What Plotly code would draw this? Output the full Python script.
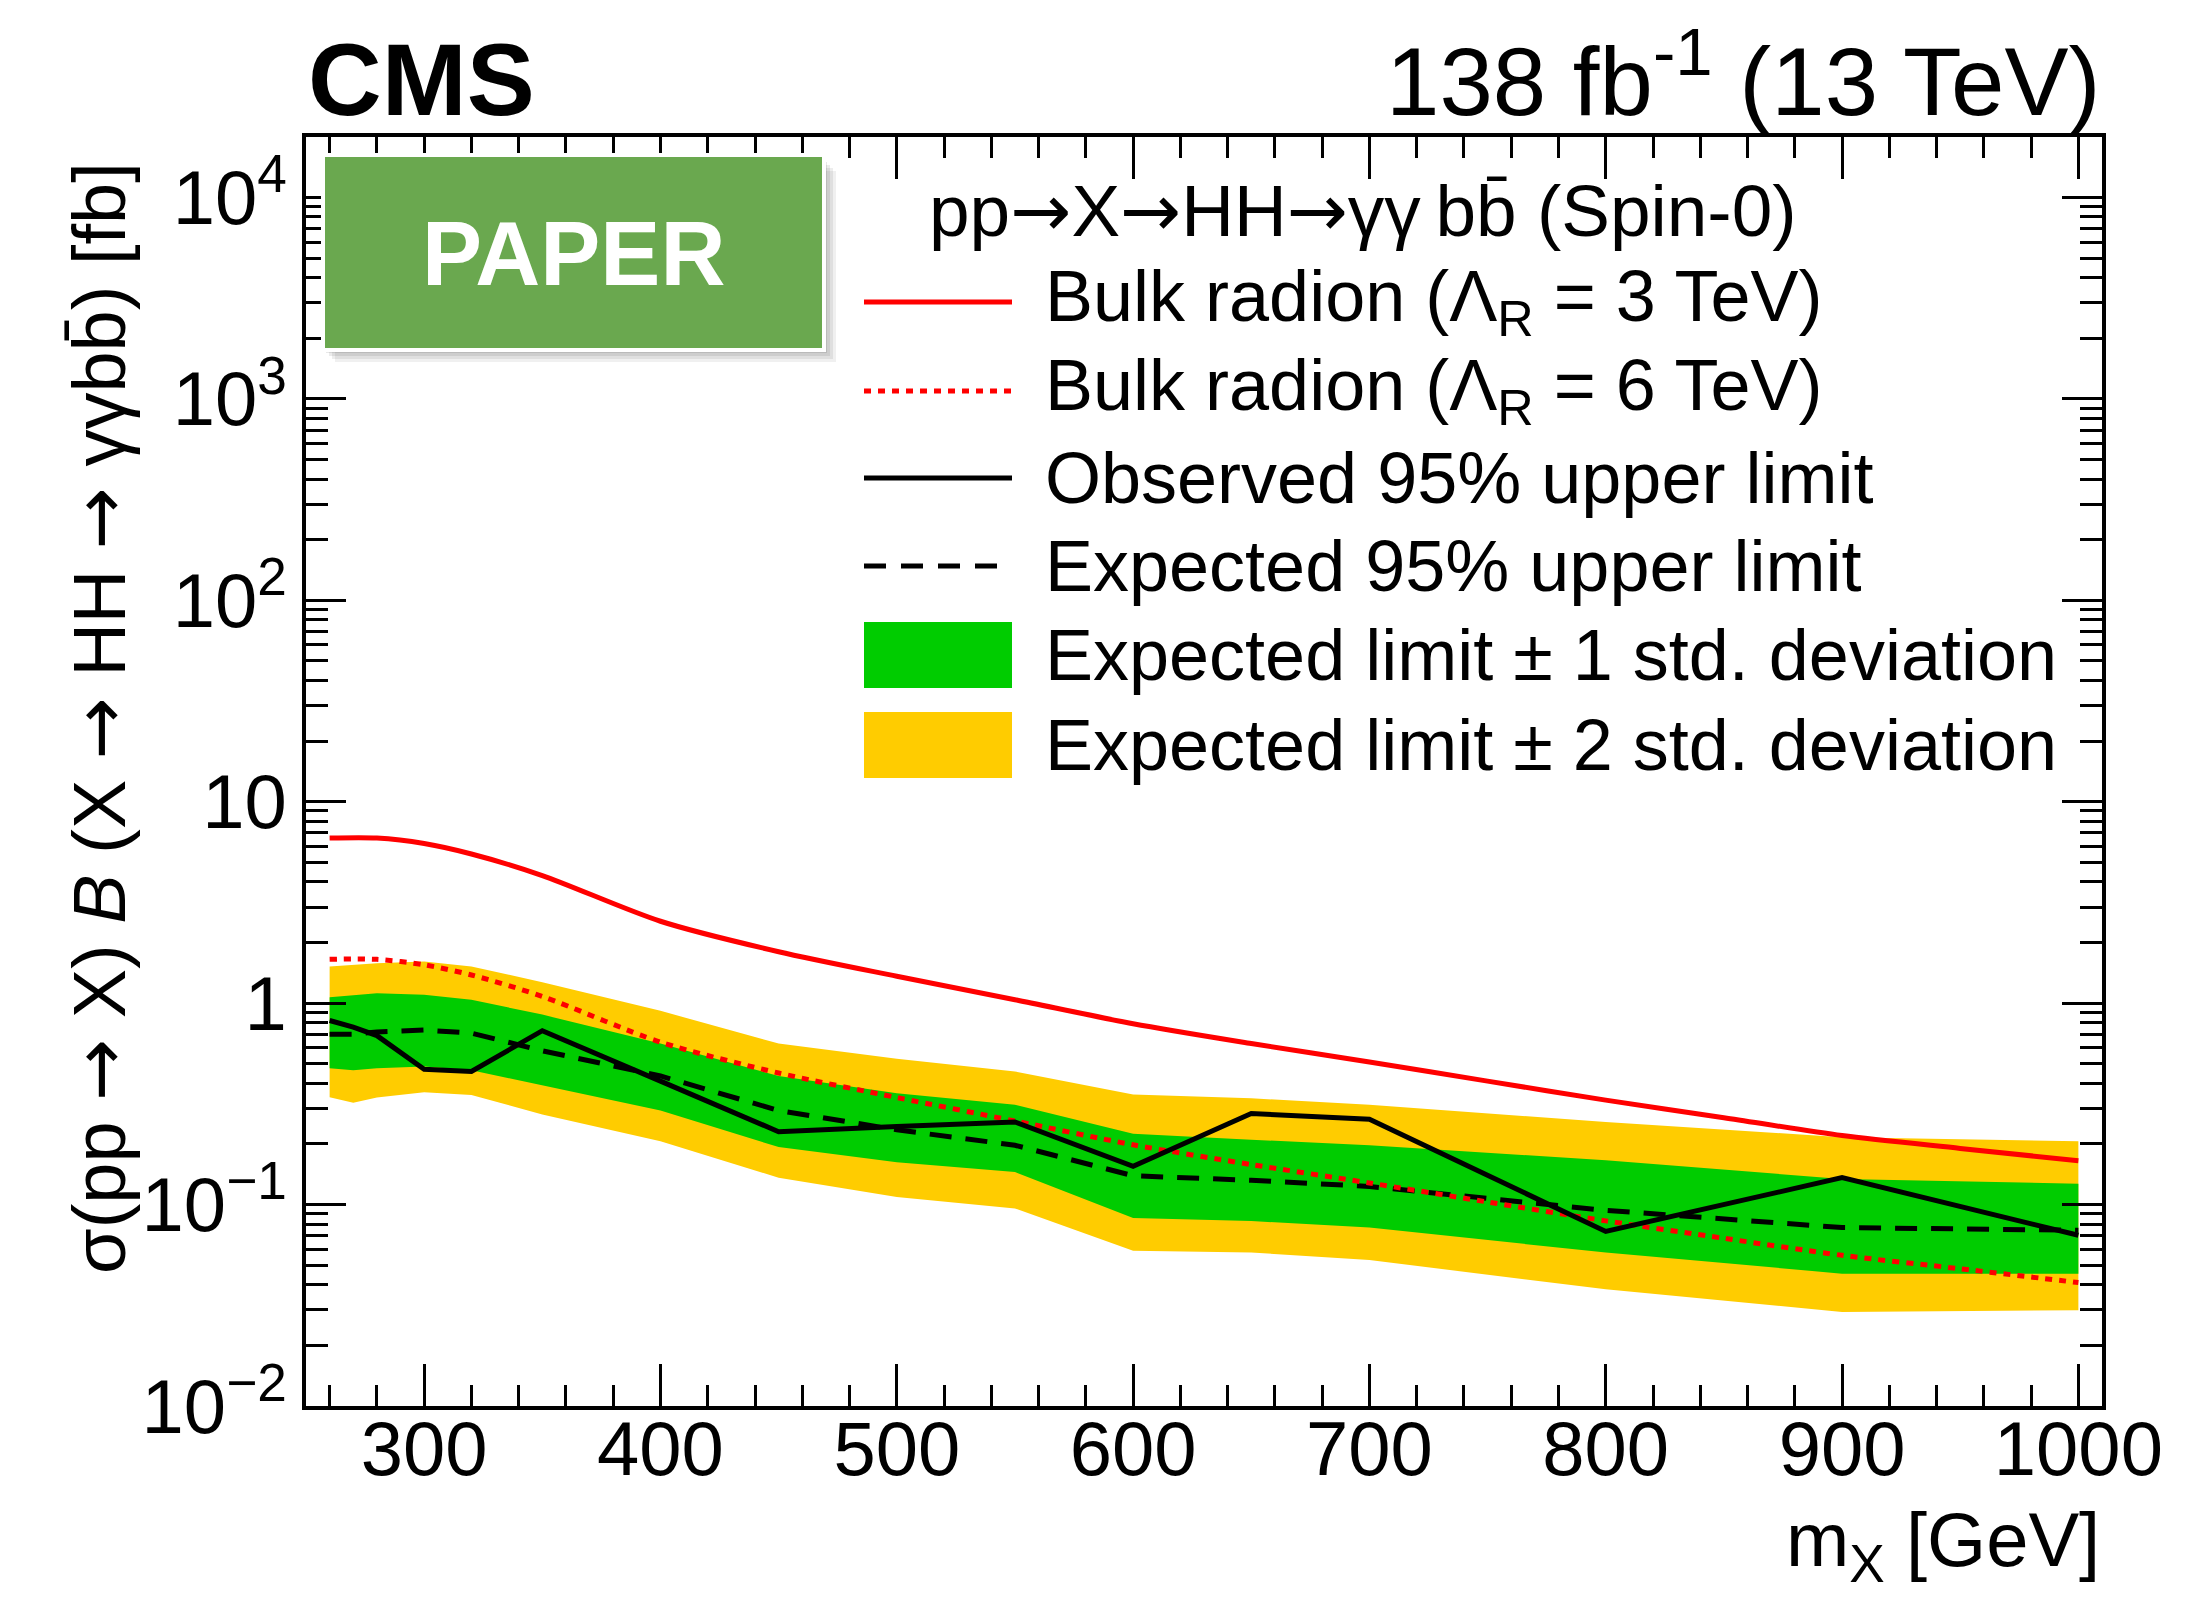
import plotly.graph_objects as go

# ---------------- data ----------------
# resonance mass points used for the limit scan [GeV]
mass = [260, 270, 280, 300, 320, 350, 400, 450, 500, 550, 600, 650, 700, 800, 900, 1000]
observed = [0.82, 0.76, 0.69, 0.47, 0.458, 0.73, 0.41, 0.23, 0.244, 0.257,
            0.155, 0.283, 0.265, 0.0736, 0.136, 0.0704]
expected = [0.70, 0.70, 0.72, 0.735, 0.71, 0.58, 0.435, 0.293, 0.235, 0.197,
            0.139, 0.132, 0.123, 0.0936, 0.0769, 0.0745]
exp_1sig_hi = [1.07, 1.09, 1.12, 1.10, 1.04, 0.877, 0.63, 0.435, 0.357, 0.313,
               0.225, 0.21, 0.197, 0.166, 0.134, 0.127]
exp_1sig_lo = [0.475, 0.464, 0.475, 0.485, 0.464, 0.39, 0.293, 0.193, 0.162, 0.145,
               0.0858, 0.0828, 0.0769, 0.0578, 0.0454, 0.0454]
exp_2sig_hi = [1.52, 1.55, 1.58, 1.61, 1.52, 1.27, 0.916, 0.63, 0.53, 0.458,
               0.352, 0.337, 0.313, 0.257, 0.216, 0.206]
exp_2sig_lo = [0.341, 0.32, 0.34, 0.361, 0.35, 0.28, 0.206, 0.136, 0.109, 0.0957,
               0.059, 0.0578, 0.053, 0.038, 0.0293, 0.0299]

# bulk radion theory predictions [fb]
mass_theory = [260, 280, 300, 320, 350, 400, 450, 500, 550, 600, 650, 700,
               750, 800, 850, 900, 950, 1000]
radion_3tev = [6.6, 6.6, 6.2, 5.5, 4.3, 2.55, 1.8, 1.36, 1.04, 0.79, 0.63, 0.51,
               0.41, 0.33, 0.27, 0.22, 0.19, 0.165]
radion_6tev = [1.65, 1.65, 1.55, 1.38, 1.08, 0.64, 0.45, 0.34, 0.26, 0.198, 0.158,
               0.128, 0.103, 0.083, 0.068, 0.056, 0.048, 0.041]

x_ticks = [300, 400, 500, 600, 700, 800, 900, 1000]
y_ticks = [1e-2, 1e-1, 1, 10, 1e2, 1e3, 1e4]
y_ticktext = ["10<sup>\u22122</sup>", "10<sup>\u22121</sup>", "1", "10",
              "10<sup>2</sup>", "10<sup>3</sup>", "10<sup>4</sup>"]

ARROW = '<span style="font-family:DejaVu Sans">\u2192</span>'
BBBAR = "bb\u0304"
legend_header = ("pp" + ARROW + "X" + ARROW + "HH" + ARROW + "\u03b3\u03b3\u2009" +
                 BBBAR + " (Spin-0)")
legend_labels = [
    "Bulk radion (\u039b<sub>R</sub> = 3 TeV)",
    "Bulk radion (\u039b<sub>R</sub> = 6 TeV)",
    "Observed 95% upper limit",
    "Expected 95% upper limit",
    "Expected limit \u00b1 1 std. deviation",
    "Expected limit \u00b1 2 std. deviation",
]
y_title = ("\u03c3(pp " + ARROW + " X) <i>B</i> (X " + ARROW + " HH " + ARROW +
           " \u03b3\u03b3" + BBBAR + ") [fb]")

# ---------------- style ----------------
FONT = "Liberation Sans, Arial, Helvetica, sans-serif"
GREEN = "#00cc00"
YELLOW = "#ffcc00"
RED = "#ff0000"

W, H = 2203, 1613
L, R, T, B = 306, 2102, 137, 1406
PW, PH = R - L, B - T


def px(x):
    return (x - L) / PW


def py(y):
    return (B - y) / PH


fig = go.Figure()

# +-2 sigma band
fig.add_trace(go.Scatter(
    x=mass + mass[::-1], y=exp_2sig_hi + exp_2sig_lo[::-1],
    fill="toself", fillcolor=YELLOW, line=dict(width=0), mode="lines",
    showlegend=False, hoverinfo="skip"))
# +-1 sigma band
fig.add_trace(go.Scatter(
    x=mass + mass[::-1], y=exp_1sig_hi + exp_1sig_lo[::-1],
    fill="toself", fillcolor=GREEN, line=dict(width=0), mode="lines",
    showlegend=False, hoverinfo="skip"))
# expected limit
fig.add_trace(go.Scatter(
    x=mass, y=expected, mode="lines",
    line=dict(color="black", width=5, dash="22px,14px"), showlegend=False))
# theory curves
fig.add_trace(go.Scatter(
    x=mass_theory, y=radion_6tev, mode="lines",
    line=dict(color=RED, width=5, dash="7px,7px", shape="spline", smoothing=0.8),
    showlegend=False))
fig.add_trace(go.Scatter(
    x=mass_theory, y=radion_3tev, mode="lines",
    line=dict(color=RED, width=5, shape="spline", smoothing=0.8),
    showlegend=False))
# observed limit
fig.add_trace(go.Scatter(
    x=mass, y=observed, mode="lines",
    line=dict(color="black", width=5), showlegend=False))

shapes = []
annotations = []

# ---- "PAPER" badge with soft drop shadow ----
bx0, bx1, by0, by1 = 325, 822, 157, 348
for i, op in enumerate([0.06, 0.07, 0.08, 0.09]):
    off = 14 - 3 * i
    shapes.append(dict(type="rect", xref="paper", yref="paper", layer="above",
                       x0=px(bx0 + off - 4), x1=px(bx1 + off),
                       y0=py(by1 + off), y1=py(by0 + off),
                       fillcolor="rgba(0,0,0,%.2f)" % op, line=dict(width=0)))
shapes.append(dict(type="rect", xref="paper", yref="paper", layer="above",
                   x0=px(bx0 - 4), x1=px(bx1 + 4), y0=py(by1 + 4), y1=py(by0 - 4),
                   fillcolor="white", line=dict(width=0)))
shapes.append(dict(type="rect", xref="paper", yref="paper", layer="above",
                   x0=px(bx0), x1=px(bx1), y0=py(by1), y1=py(by0),
                   fillcolor="#6aa84f", line=dict(width=0)))
annotations.append(dict(text="<b>PAPER</b>", x=px((bx0 + bx1) / 2), y=py((by0 + by1) / 2 + 2),
                        xref="paper", yref="paper", showarrow=False,
                        font=dict(family=FONT, size=90, color="white"),
                        xanchor="center", yanchor="middle"))

# ---- legend ----
sym_x0, sym_x1 = 864, 1012
text_x = 1043
row_y = [302, 391, 478, 566, 655, 745]
annotations.append(dict(text=legend_header, x=px(927), y=py(211), xref="paper", yref="paper",
                        showarrow=False, xanchor="left", yanchor="middle",
                        font=dict(family=FONT, size=73, color="black")))
line_styles = [(RED, 5, "solid"), (RED, 5, "7px,7px"), ("black", 5, "solid"),
               ("black", 5, "22px,15px")]
for (col, wid, dash), yy in zip(line_styles, row_y[:4]):
    shapes.append(dict(type="line", xref="paper", yref="paper", layer="above",
                       x0=px(sym_x0), x1=px(sym_x1), y0=py(yy), y1=py(yy),
                       line=dict(color=col, width=wid, dash=dash)))
for col, yy in zip([GREEN, YELLOW], row_y[4:]):
    shapes.append(dict(type="rect", xref="paper", yref="paper", layer="above",
                       x0=px(sym_x0), x1=px(sym_x1), y0=py(yy + 33), y1=py(yy - 33),
                       fillcolor=col, line=dict(width=0)))
for lab, yy in zip(legend_labels, row_y):
    annotations.append(dict(text=lab, x=px(text_x), y=py(yy), xref="paper", yref="paper",
                            showarrow=False, xanchor="left", yanchor="middle",
                            font=dict(family=FONT, size=72, color="black")))

# ---- titles ----
annotations.append(dict(text="<b>CMS</b>", x=0, y=py(80), xref="paper", yref="paper",
                        showarrow=False, xanchor="left", yanchor="middle",
                        font=dict(family=FONT, size=102, color="black")))
annotations.append(dict(text="138 fb<sup>-1</sup> (13 TeV)", x=1, y=py(74),
                        xref="paper", yref="paper", showarrow=False,
                        xanchor="right", yanchor="middle",
                        font=dict(family=FONT, size=96, color="black")))
annotations.append(dict(text="m<sub>X</sub> [GeV]", x=1, y=py(1545), xref="paper",
                        yref="paper", showarrow=False, xanchor="right", yanchor="middle",
                        font=dict(family=FONT, size=76, color="black")))
annotations.append(dict(text=y_title,
                        x=px(99), y=py(718), xref="paper", yref="paper", showarrow=False,
                        textangle=-90, xanchor="center", yanchor="middle",
                        font=dict(family=FONT, size=74, color="black")))

minor_y = [k * 10.0 ** e for e in range(-2, 5) for k in range(2, 10)]

fig.update_layout(
    width=W, height=H,
    margin=dict(l=L, r=W - R, t=T, b=H - B, pad=0),
    paper_bgcolor="white", plot_bgcolor="white",
    font=dict(family=FONT, size=76, color="black"),
    shapes=shapes, annotations=annotations,
    showlegend=False,
    xaxis=dict(
        range=[250, 1010], tickvals=x_ticks, ticks="inside", ticklen=42, tickwidth=3,
        tickcolor="black", showline=True, linecolor="black", linewidth=4,
        mirror="allticks", showgrid=False, zeroline=False,
        tickfont=dict(family=FONT, size=76), ticklabelstandoff=-26,
        minor=dict(dtick=20, tick0=0, ticks="inside", ticklen=21, tickwidth=3,
                   tickcolor="black", showgrid=False),
    ),
    yaxis=dict(
        type="log", range=[-2, 4.3], tickvals=y_ticks, ticktext=y_ticktext,
        ticks="inside", ticklen=40, tickwidth=3, tickcolor="black",
        showline=True, linecolor="black", linewidth=4, mirror="allticks",
        showgrid=False, zeroline=False, tickfont=dict(family=FONT, size=76),
        minor=dict(tickvals=minor_y, ticks="inside", ticklen=22, tickwidth=3,
                   tickcolor="black", showgrid=False),
    ),
)

fig.write_html("out.html")
